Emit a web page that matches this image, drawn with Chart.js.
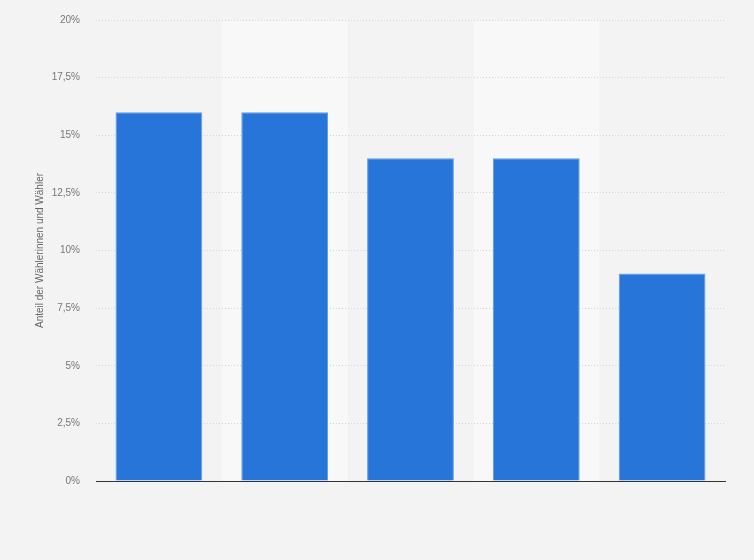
<!DOCTYPE html>
<html>
<head>
<meta charset="utf-8">
<script src="https://cdn.jsdelivr.net/npm/chart.js@4"></script>
<style>
  html, body { margin: 0; padding: 0; background: #f3f3f3; }
  #wrap { width: 754px; height: 560px; }
</style>
</head>
<body>
<div id="wrap"><canvas id="myChart"></canvas></div>
<script>
// data
const categories = ['1', '2', '3', '4', '5'];
const shares = [16, 16, 14, 14, 9];
const yTicks = [0, 2.5, 5, 7.5, 10, 12.5, 15, 17.5, 20];

// grey page plus lighter bands behind every second category
const bandPlugin = {
  id: 'bands',
  beforeDraw(chart) {
    const { ctx, chartArea, scales } = chart;
    ctx.save();
    ctx.fillStyle = '#f3f3f3';
    ctx.fillRect(0, 0, chart.width, chart.height);
    const step = (chartArea.right - chartArea.left) / categories.length;
    ctx.fillStyle = '#f8f8f8';
    categories.forEach((c, i) => {
      if (i % 2 === 1) {
        const x = scales.x.getPixelForValue(i);
        ctx.fillRect(x - step / 2, chartArea.top, step, chartArea.bottom - chartArea.top);
      }
    });
    ctx.restore();
  }
};

const ctx = document.getElementById('myChart').getContext('2d');
const myChart = new Chart(ctx, {
  type: 'bar',
  data: {
    labels: categories,
    datasets: [{
      data: shares,
      backgroundColor: '#2775d8',
      borderColor: '#5f9ae6',
      borderWidth: 1,
      categoryPercentage: 0.69,
      barPercentage: 1
    }]
  },
  options: {
    responsive: true,
    maintainAspectRatio: false,
    animation: false,
    layout: { padding: { top: 20, right: 29, left: 34, bottom: 0 } },
    plugins: {
      legend: { display: false },
      tooltip: { enabled: false }
    },
    scales: {
      x: {
        ticks: { display: false },
        grid: { display: false, drawTicks: false },
        border: { display: true, color: '#333333', width: 1 },
        afterFit(scale) { scale.height = 79; }
      },
      y: {
        min: 0,
        max: 20,
        afterBuildTicks(scale) { scale.ticks = yTicks.map(v => ({ value: v })); },
        ticks: {
          color: '#777777',
          padding: 16,
          font: { family: 'Liberation Sans, Arial, sans-serif', size: 10 },
          callback: v => String(v).replace('.', ',') + '%'
        },
        grid: { color: '#d4d4d4', drawTicks: false, lineWidth: 1 },
        border: { display: false, dash: [1, 2] },
        title: {
          display: true,
          text: 'Anteil der Wählerinnen und Wähler',
          color: '#666666',
          font: { family: 'Liberation Sans, Arial, sans-serif', size: 10 },
          padding: { top: 0, bottom: 0 }
        },
        afterFit(scale) {
          scale.width = 62;
          scale.paddingTop = 0;
          scale.paddingBottom = 0;
        }
      }
    }
  },
  plugins: [bandPlugin]
});
</script>
</body>
</html>
